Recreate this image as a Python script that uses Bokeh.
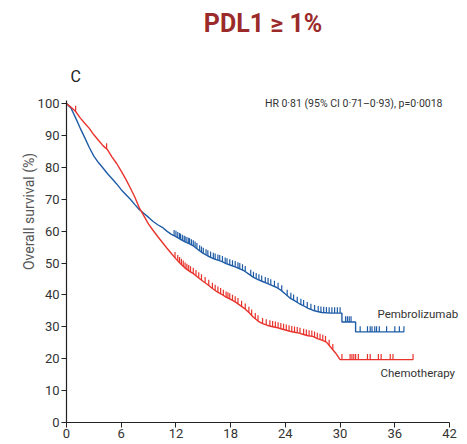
from bokeh.plotting import figure
from bokeh.models import Range1d, Label, FixedTicker, Title
from bokeh.embed import file_html
from bokeh.resources import INLINE
import numpy as np

# ---------------- data ----------------
pem_t = [0, 0.5, 1.0, 1.5, 2.0, 2.5, 3.0, 3.5, 4.0, 4.5, 5.0, 5.5, 6.0, 6.5, 7.0, 7.5,
         8.0, 8.5, 9.0, 9.5, 10.0, 10.5, 11.0, 11.5, 12.0, 12.5, 13.0, 13.5, 14.0, 14.5,
         15.0, 15.5, 16.0, 16.5, 17.0, 17.5, 18.0, 18.5, 19.0, 19.5, 20.0, 20.5, 21.0,
         21.5, 22.0, 22.5, 23.0, 23.5, 24.0, 24.5, 25.0, 25.5, 26.0, 26.5, 27.0, 27.5,
         28.0, 29.0, 30.2, 30.2, 31.7, 31.7, 37.0]
pem_s = [100, 98.5, 95.5, 92.3, 89.3, 86.2, 83.5, 81.5, 79.8, 78.0, 76.4, 74.8, 73.0,
         71.5, 70.0, 68.3, 66.7, 65.5, 64.3, 63.0, 62.0, 61.2, 60.0, 59.0, 58.3, 57.4,
         56.6, 56.0, 55.2, 54.0, 53.0, 52.2, 51.5, 51.0, 50.5, 49.8, 49.3, 48.8, 48.2,
         47.5, 46.5, 45.5, 44.8, 44.2, 43.6, 43.0, 42.4, 41.5, 40.3, 39.0, 38.2, 37.3,
         36.6, 35.8, 35.2, 34.8, 34.5, 34.3, 34.3, 31.5, 31.5, 28.4, 28.4]

chemo_t = [0, 0.5, 1.0, 1.5, 2.0, 2.5, 3.0, 3.5, 4.0, 4.5, 5.0, 5.5, 6.0, 6.5, 7.0, 7.5,
           8.0, 8.5, 9.0, 9.5, 10.0, 10.5, 11.0, 11.5, 12.0, 12.5, 13.0, 13.5, 14.0, 14.5,
           15.0, 15.5, 16.0, 16.5, 17.0, 17.5, 18.0, 18.5, 19.0, 19.5, 20.0, 20.5, 21.0,
           21.5, 22.0, 22.5, 23.0, 23.5, 24.0, 24.5, 25.0, 25.5, 26.0, 26.5, 27.0, 27.5,
           28.0, 28.5, 29.0, 29.5, 30.0, 38.0]
chemo_s = [100, 98.8, 97.5, 95.5, 93.8, 92.2, 90.2, 88.5, 86.8, 85.5, 83.2, 81.2, 78.8,
           76.3, 73.5, 70.6, 67.2, 64.7, 62.2, 60.2, 58.3, 56.5, 54.7, 53.0, 51.3, 49.8,
           48.4, 47.4, 46.5, 45.3, 44.2, 43.2, 42.0, 41.0, 40.2, 39.3, 38.6, 37.8, 36.8,
           35.8, 34.5, 33.0, 31.8, 31.0, 30.5, 30.1, 29.8, 29.4, 29.0, 28.6, 28.3, 28.0,
           27.6, 27.2, 27.0, 26.3, 25.8, 25.2, 23.5, 21.8, 19.7, 19.7]

pem_censor = [11.8, 12.0, 12.2, 12.4, 12.5, 12.7, 12.9, 13.0, 13.2, 13.4, 13.5, 13.7,
              13.9, 14.1, 14.3, 14.6, 14.8, 15.0, 15.3, 15.5, 15.8, 16.1, 16.3, 16.6,
              16.8, 17.1, 17.4, 17.6, 17.9, 18.2, 18.5, 18.8, 19.0, 19.3, 19.6, 20.2,
              20.5, 20.8, 21.1, 21.4, 21.8, 22.1, 22.4, 22.8, 23.2, 23.6, 24.2, 24.6,
              24.9, 25.3, 25.7, 26.0, 26.4, 26.8, 27.2, 27.6, 27.9, 28.2, 28.5, 28.8,
              29.1, 29.4, 29.7, 30.0, 30.6, 30.8, 31.0, 31.2, 32.2, 33.0, 33.3, 33.5,
              33.8, 34.0, 34.3, 35.1, 36.0, 36.5, 37.0]
chemo_censor = [1.0, 4.4, 11.9, 12.2, 12.4, 12.6, 12.8, 13.0, 13.2, 13.4, 13.6, 13.9,
                14.2, 14.5, 14.8, 15.2, 15.6, 16.0, 16.3, 16.6, 16.9, 17.2, 17.5, 17.7,
                17.9, 18.2, 18.5, 18.8, 19.2, 19.6, 20.0, 20.3, 20.7, 21.0, 21.5, 21.9,
                22.3, 22.6, 22.9, 23.2, 23.5, 23.8, 24.1, 24.4, 24.7, 25.0, 25.3, 25.6,
                26.0, 26.3, 26.6, 26.9, 27.2, 27.5, 27.8, 28.1, 28.4, 28.8, 29.2, 30.2,
                31.1, 31.3, 31.5, 31.7, 32.0, 33.0, 33.3, 34.2, 34.5, 35.5, 35.8, 38.0]

x_ticks = [0, 6, 12, 18, 24, 30, 36, 42]
y_ticks = [0, 10, 20, 30, 40, 50, 60, 70, 80, 90, 100]

title_text = "PDL1 \u2265 1%"
panel_text = "C"
hr_text = "HR 0\u00b781 (95% CI 0\u00b771\u20130\u00b793), p=0\u00b70018"
pem_name = "Pembrolizumab"
chemo_name = "Chemotherapy"
y_label = "Overall survival (%)"

BLUE = "#1f5ca6"
RED = "#e8332c"
FONT = "Roboto"

# ---------------- figure ----------------
p = figure(width=467, height=444, output_backend="svg", toolbar_location=None,
           x_range=Range1d(0, 43.97), y_range=Range1d(0, 132.3),
           min_border_left=66, min_border_right=0, min_border_top=0,
           min_border_bottom=22)
p.outline_line_color = None
p.grid.visible = False
p.background_fill_color = "white"
p.border_fill_color = "white"


def value_at(ts, ss, t):
    idx = np.searchsorted(np.array(ts), t, side="right") - 1
    return ss[max(idx, 0)]


p.line(pem_t, pem_s, line_color=BLUE, line_width=1.4)
p.line(chemo_t, chemo_s, line_color=RED, line_width=1.4)

for ts, ss, cen, col in [(pem_t, pem_s, pem_censor, BLUE),
                         (chemo_t, chemo_s, chemo_censor, RED)]:
    y0 = [float(np.interp(c, ts, ss)) if c < 30 else value_at(ts, ss, c) for c in cen]
    y1 = [v + 1.8 for v in y0]
    p.segment(x0=cen, y0=y0, x1=cen, y1=y1, line_color=col, line_width=1.2)

# axes
for ax in (p.xaxis[0], p.yaxis[0]):
    ax.axis_line_color = "#222222"
    ax.axis_line_width = 1.2
    ax.major_tick_line_color = "#222222"
    ax.major_tick_in = 0
    ax.major_tick_out = 5
    ax.minor_tick_line_color = None
    ax.major_label_text_font = FONT
    ax.major_label_text_font_size = "13px"
    ax.major_label_text_color = "#333333"

p.xaxis.bounds = (0, 42)
p.yaxis.bounds = (0, 101)
p.xaxis.ticker = FixedTicker(ticks=x_ticks)
p.yaxis.ticker = FixedTicker(ticks=y_ticks)
p.xaxis.major_label_standoff = 1
p.yaxis.major_label_standoff = 2

# y-axis title, placed as a left-side title so it can be shifted down
p.add_layout(Title(text=y_label, align="center", offset=-41, standoff=-4,
                   text_font=FONT, text_font_style="normal",
                   text_font_size="14px", text_color="#555555"), "left")

# texts
p.add_layout(Label(x=21.55, y=125.2, text=title_text, text_align="center",
                   text_baseline="middle", text_font=FONT, text_font_style="bold",
                   text_font_size="25px", text_color="#9b2a2b"))
p.add_layout(Label(x=0.44, y=108.5, text=panel_text, text_align="left",
                   text_baseline="middle", text_font=FONT,
                   text_font_size="16px", text_color="#222222"))
p.add_layout(Label(x=41.23, y=100.0, text=hr_text, text_align="right",
                   text_baseline="middle", text_font=FONT,
                   text_font_size="10.5px", text_color="#333333"))
p.add_layout(Label(x=34.1, y=33.9, text=pem_name, text_align="left",
                   text_baseline="middle", text_font=FONT,
                   text_font_size="11.5px", text_color="#333333"))
p.add_layout(Label(x=34.43, y=15.4, text=chemo_name, text_align="left",
                   text_baseline="middle", text_font=FONT,
                   text_font_size="11.5px", text_color="#333333"))

open("out.html", "w").write(file_html(p, INLINE))
